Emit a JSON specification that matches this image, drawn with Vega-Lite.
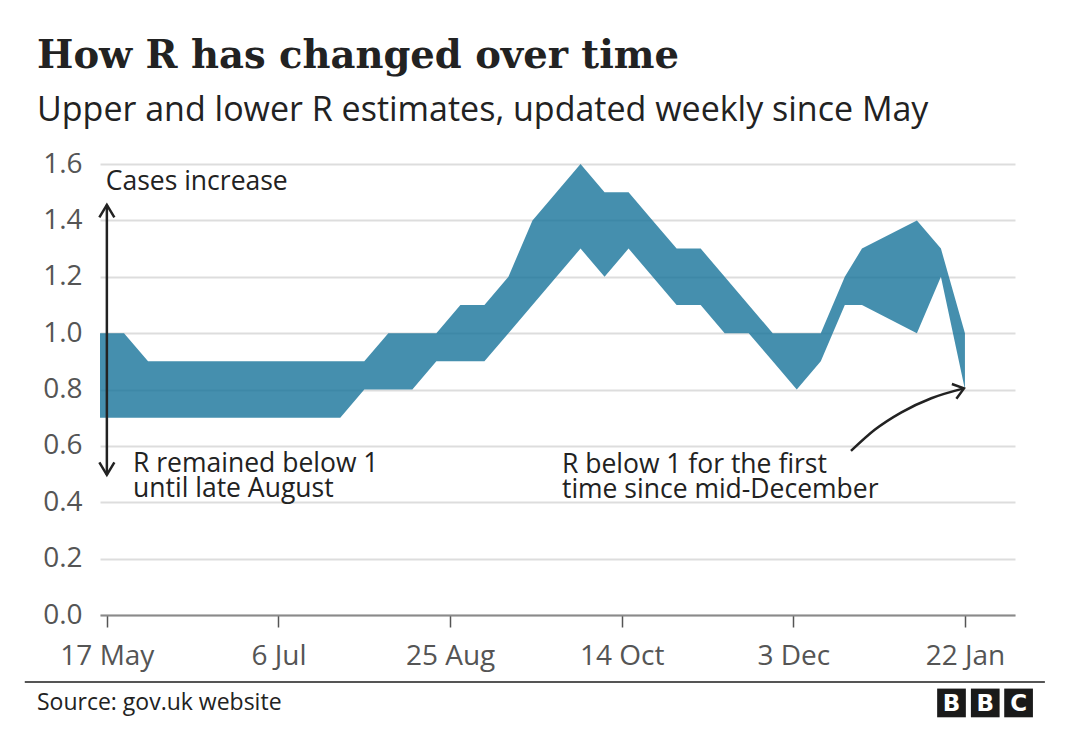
{
  "$schema": "https://vega.github.io/schema/vega-lite/v6.json",
  "width": 915,
  "height": 451,
  "autosize": "none",
  "padding": {"left": 100, "top": 164, "right": 65, "bottom": 127},
  "background": "white",
  "config": {"view": {"stroke": null}, "font": "Open Sans", "text": {"lineBreak": "\n"}},
  "title": {
    "text": "How R has changed over time",
    "subtitle": "Upper and lower R estimates, updated weekly since May",
    "anchor": "start",
    "frame": "group",
    "dx": -63,
    "offset": 21,
    "font": "DejaVu Serif",
    "fontSize": 38.5,
    "fontWeight": "bold",
    "color": "#222222",
    "subtitleFont": "Open Sans",
    "subtitleFontSize": 34,
    "subtitleColor": "#222222",
    "subtitlePadding": 18
  },
  "datasets": {
    "r": [
      {"date": "2020-05-15", "lower": 0.7, "upper": 1.0},
      {"date": "2020-05-22", "lower": 0.7, "upper": 1.0},
      {"date": "2020-05-29", "lower": 0.7, "upper": 0.9},
      {"date": "2020-06-05", "lower": 0.7, "upper": 0.9},
      {"date": "2020-06-12", "lower": 0.7, "upper": 0.9},
      {"date": "2020-06-19", "lower": 0.7, "upper": 0.9},
      {"date": "2020-06-26", "lower": 0.7, "upper": 0.9},
      {"date": "2020-07-03", "lower": 0.7, "upper": 0.9},
      {"date": "2020-07-10", "lower": 0.7, "upper": 0.9},
      {"date": "2020-07-17", "lower": 0.7, "upper": 0.9},
      {"date": "2020-07-24", "lower": 0.7, "upper": 0.9},
      {"date": "2020-07-31", "lower": 0.8, "upper": 0.9},
      {"date": "2020-08-07", "lower": 0.8, "upper": 1.0},
      {"date": "2020-08-14", "lower": 0.8, "upper": 1.0},
      {"date": "2020-08-21", "lower": 0.9, "upper": 1.0},
      {"date": "2020-08-28", "lower": 0.9, "upper": 1.1},
      {"date": "2020-09-04", "lower": 0.9, "upper": 1.1},
      {"date": "2020-09-11", "lower": 1.0, "upper": 1.2},
      {"date": "2020-09-18", "lower": 1.1, "upper": 1.4},
      {"date": "2020-09-25", "lower": 1.2, "upper": 1.5},
      {"date": "2020-10-02", "lower": 1.3, "upper": 1.6},
      {"date": "2020-10-09", "lower": 1.2, "upper": 1.5},
      {"date": "2020-10-16", "lower": 1.3, "upper": 1.5},
      {"date": "2020-10-23", "lower": 1.2, "upper": 1.4},
      {"date": "2020-10-30", "lower": 1.1, "upper": 1.3},
      {"date": "2020-11-06", "lower": 1.1, "upper": 1.3},
      {"date": "2020-11-13", "lower": 1.0, "upper": 1.2},
      {"date": "2020-11-20", "lower": 1.0, "upper": 1.1},
      {"date": "2020-11-27", "lower": 0.9, "upper": 1.0},
      {"date": "2020-12-04", "lower": 0.8, "upper": 1.0},
      {"date": "2020-12-11", "lower": 0.9, "upper": 1.0},
      {"date": "2020-12-18", "lower": 1.1, "upper": 1.2},
      {"date": "2020-12-23", "lower": 1.1, "upper": 1.3},
      {"date": "2021-01-08", "lower": 1.0, "upper": 1.4},
      {"date": "2021-01-15", "lower": 1.2, "upper": 1.3},
      {"date": "2021-01-22", "lower": 0.8, "upper": 1.0}
    ],
    "varrow": [
      {"date": "2020-05-17", "y1": 0.497, "y2": 1.455}
    ],
    "curve": [
      {"date": "2020-12-19T19:00:00Z", "v": 0.582},
      {"date": "2020-12-26T17:00:00Z", "v": 0.657},
      {"date": "2021-01-03T12:00:00Z", "v": 0.719},
      {"date": "2021-01-12T05:00:00Z", "v": 0.769},
      {"date": "2021-01-21T17:00:00Z", "v": 0.804}
    ],
    "labels": [
      {"date": "2020-05-16T16:00:00Z", "v": 1.508, "text": "Cases increase"},
      {"date": "2020-05-24T15:00:00Z", "v": 0.507, "text": "R remained below 1\nuntil late August"},
      {"date": "2020-09-26T14:00:00Z", "v": 0.504, "text": "R below 1 for the first\ntime since mid-December"}
    ],
    "footer": [
      {"date": "2020-04-26T15:00:00Z", "v": -0.337, "text": "Source: gov.uk website"}
    ],
    "footline": [
      {"d1": "2020-04-23T02:00:00Z", "d2": "2021-02-14T07:00:00Z", "v": -0.238}
    ],
    "logo": [
      {"date": "2021-01-18T02:00:00Z", "v": -0.312, "text": "B"},
      {"date": "2021-01-27T22:00:00Z", "v": -0.312, "text": "B"},
      {"date": "2021-02-06T15:00:00Z", "v": -0.312, "text": "C"}
    ]
  },
  "encoding": {
    "x": {
      "field": "date",
      "type": "temporal",
      "scale": {
        "type": "utc",
        "domain": [
          {"year": 2020, "month": 5, "date": 15, "utc": true},
          {"year": 2021, "month": 2, "date": 5, "hours": 14, "utc": true}
        ]
      },
      "axis": {
        "title": null,
        "values": [
          {"year": 2020, "month": 5, "date": 17, "utc": true},
          {"year": 2020, "month": 7, "date": 6, "utc": true},
          {"year": 2020, "month": 8, "date": 25, "utc": true},
          {"year": 2020, "month": 10, "date": 14, "utc": true},
          {"year": 2020, "month": 12, "date": 3, "utc": true},
          {"year": 2021, "month": 1, "date": 22, "utc": true}
        ],
        "format": "%-d %b",
        "grid": false,
        "labelFontSize": 28,
        "labelColor": "#555555",
        "labelPadding": 15,
        "tickSize": 12,
        "tickColor": "#555555",
        "tickWidth": 1.5,
        "domainColor": "#8a8a8a",
        "domainWidth": 2,
        "labelFlush": false,
        "labelOverlap": false
      }
    }
  },
  "layer": [
    {
      "data": {"name": "r"},
      "mark": {"type": "area", "color": "#17739a", "opacity": 0.8},
      "encoding": {
        "y": {
          "field": "upper",
          "type": "quantitative",
          "scale": {"domain": [0, 1.6], "nice": false},
          "axis": {
            "title": null,
            "values": [0, 0.2, 0.4, 0.6, 0.8, 1.0, 1.2, 1.4, 1.6],
            "format": ".1f",
            "domain": false,
            "ticks": false,
            "labelFontSize": 28,
            "labelColor": "#555555",
            "labelPadding": 18,
            "gridColor": "#dddddd",
            "gridWidth": 2
          }
        },
        "y2": {"field": "lower"}
      }
    },
    {
      "mark": {"type": "rule", "color": "#222222", "strokeWidth": 2, "strokeDash": [7, 5]},
      "encoding": {"y": {"datum": 1}}
    },
    {
      "data": {"name": "varrow"},
      "mark": {"type": "rule", "color": "#222222", "strokeWidth": 2.5},
      "encoding": {
        "y": {"field": "y1", "type": "quantitative"},
        "y2": {"field": "y2"}
      }
    },
    {
      "data": {"name": "varrow"},
      "mark": {"type": "point", "shape": "M-0.6,1L0,0L0.6,1", "filled": false, "stroke": "#222222", "strokeWidth": 2.5, "size": 625, "opacity": 1},
      "encoding": {"y": {"field": "y2", "type": "quantitative"}}
    },
    {
      "data": {"name": "varrow"},
      "mark": {"type": "point", "shape": "M-0.6,-1L0,0L0.6,-1", "filled": false, "stroke": "#222222", "strokeWidth": 2.5, "size": 625, "opacity": 1},
      "encoding": {"y": {"field": "y1", "type": "quantitative"}}
    },
    {
      "data": {"name": "curve"},
      "mark": {"type": "line", "color": "#222222", "strokeWidth": 2.5, "interpolate": "monotone"},
      "encoding": {"y": {"field": "v", "type": "quantitative"}}
    },
    {
      "data": {"name": "curve"},
      "transform": [{"filter": "datum.v > 0.8"}],
      "mark": {"type": "point", "shape": "M-1,-0.75L0,0L-1,0.75", "filled": false, "stroke": "#222222", "strokeWidth": 2.5, "size": 420, "angle": -17, "opacity": 1},
      "encoding": {"y": {"field": "v", "type": "quantitative"}}
    },
    {
      "data": {"name": "labels"},
      "mark": {"type": "text", "align": "left", "baseline": "alphabetic", "fontSize": 26.5, "lineHeight": 25, "color": "#222222"},
      "encoding": {
        "y": {"field": "v", "type": "quantitative"},
        "text": {"field": "text"}
      }
    },
    {
      "data": {"name": "footline"},
      "mark": {"type": "rule", "color": "#555555", "strokeWidth": 2},
      "encoding": {
        "x": {"field": "d1", "type": "temporal"},
        "x2": {"field": "d2"},
        "y": {"field": "v", "type": "quantitative"}
      }
    },
    {
      "data": {"name": "footer"},
      "mark": {"type": "text", "align": "left", "baseline": "alphabetic", "fontSize": 23, "color": "#222222"},
      "encoding": {
        "y": {"field": "v", "type": "quantitative"},
        "text": {"field": "text"}
      }
    },
    {
      "data": {"name": "logo"},
      "mark": {"type": "point", "shape": "square", "filled": true, "color": "#1a1a1a", "size": 824, "opacity": 1},
      "encoding": {"y": {"field": "v", "type": "quantitative"}}
    },
    {
      "data": {"name": "logo"},
      "mark": {"type": "text", "align": "center", "baseline": "middle", "fontSize": 23, "font": "DejaVu Sans", "fontWeight": "bold", "color": "white", "dy": 1},
      "encoding": {
        "y": {"field": "v", "type": "quantitative"},
        "text": {"field": "text"}
      }
    }
  ]
}
